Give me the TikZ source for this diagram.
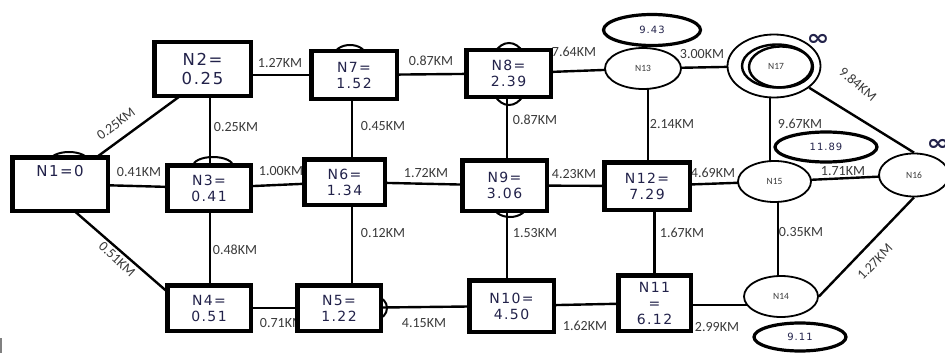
\documentclass[tikz,border=0pt]{standalone}
\usepackage{fontspec}
\usetikzlibrary{shapes.geometric,calc}
\newfontfamily\boxfont[LetterSpace=10]{DejaVu Sans}
\newfontfamily\lblfont{Carlito}
\newfontfamily\symfont{DejaVu Sans}
\definecolor{txt}{HTML}{22224A}
\definecolor{lbl}{HTML}{3A3A3A}
\pgfdeclarelayer{back}
\pgfsetlayers{back,main}
\begin{document}
\begin{tikzpicture}[x=1pt,y=-1pt,
  box/.style={draw, line width=4.5pt, fill=white, inner sep=0pt, align=center, text=txt,
    font=\boxfont\fontsize{14}{16}\selectfont},
  ell/.style={draw, ellipse, line width=1.8pt, fill=white, inner sep=0pt, text=lbl,
    font=\lblfont\fontsize{9.5}{10}\selectfont},
  valell/.style={draw, ellipse, line width=3.2pt, fill=white, inner sep=0pt, text=txt,
    font=\boxfont\fontsize{10}{12}\selectfont},
  conn/.style={line width=2.4pt},
  arcbk/.style={line width=2pt},
  lbl/.style={inner sep=0pt, text=lbl, font=\lblfont\fontsize{14}{14}\selectfont},
  infsym/.style={inner sep=0pt, text=txt, font=\symfont\bfseries\fontsize{22}{22}\selectfont}
]
\useasboundingbox (0,0) rectangle (945,353);

% boxes
\node[box, minimum width=95.5pt, minimum height=53.5pt, font=\boxfont\fontsize{15}{20}\selectfont] (n1) at (60,184) {N1=0\\\strut};
\node[box, minimum width=96.5pt, minimum height=53.5pt, font=\boxfont\fontsize{16.5}{19}\selectfont] (n2) at (202.5,69) {N2=\\0.25};
\node[box, minimum width=83.5pt, minimum height=45.5pt] (n3) at (209,188) {N3=\\0.41};
\node[box, minimum width=83.5pt, minimum height=45.5pt] (n4) at (209,308) {N4=\\0.51};
\node[box, minimum width=83.5pt, minimum height=45.5pt] (n5) at (339,308) {N5=\\1.22};
\node[box, minimum width=80.5pt, minimum height=45.5pt] (n6) at (344.5,182) {N6=\\1.34};
\node[box, minimum width=85.5pt, minimum height=47.5pt] (n7) at (354,75) {N7=\\1.52};
\node[box, minimum width=84.5pt, minimum height=46.5pt] (n8) at (508.5,73.5) {N8=\\2.39};
\node[box, minimum width=84.5pt, minimum height=50.5pt] (n9) at (504.5,185.5) {N9=\\3.06};
\node[box, minimum width=84.5pt, minimum height=51.5pt] (n10) at (511.5,306) {N10=\\4.50};
\node[box, minimum width=72.5pt, minimum height=55.5pt] (n11) at (654.5,303) {N11\\=\\6.12};
\node[box, minimum width=85.5pt, minimum height=47.5pt] (n12) at (647,186) {N12=\\7.29};

% ellipse nodes
\node[ell, minimum width=76pt, minimum height=41pt] (n13) at (643,68.5) {N13};
\node[ell, minimum width=93pt, minimum height=63pt] (n17) at (774,66) {};
\draw[line width=2.4pt] (777,66) ellipse [x radius=35pt, y radius=21.5pt];
\draw[line width=2.4pt] (781,67) ellipse [x radius=32pt, y radius=20.5pt];
\node[inner sep=0pt, text=lbl, font=\lblfont\fontsize{9.5}{10}\selectfont] (n17t) at (776,66) {N17};
\node[ell, minimum width=73pt, minimum height=41pt] (n15) at (774.5,181.5) {N15};
\node[ell, minimum width=70pt, minimum height=43pt] (n16) at (914,175) {N16};
\node[ell, minimum width=74pt, minimum height=41pt] (n14) at (781,296.5) {N14};

% value ellipses
\node[valell, minimum width=97pt, minimum height=31pt] (v13) at (652,30) {9.43};
\node[valell, minimum width=102pt, minimum height=30pt] (v15) at (826,147) {11.89};
\node[valell, minimum width=92pt, minimum height=28pt] (v14) at (800,337) {9.11};

% infinity marks
\node[infsym] (i17) at (818,40) {\scalebox{1.25}[1]{∞}};
\node[infsym] (i16) at (938,145) {\scalebox{1.25}[1]{∞}};

\begin{pgfonlayer}{back}
% partly hidden arcs behind boxes
\draw[arcbk] (69,162) ellipse [x radius=20pt, y radius=10pt];
\draw[arcbk] (213,166) ellipse [x radius=20pt, y radius=9pt];
\draw[arcbk] (350,56) ellipse [x radius=16pt, y radius=11pt];
\draw[arcbk] (509,74) ellipse [x radius=20pt, y radius=31pt];
\draw[arcbk] (510,205) ellipse [x radius=17pt, y radius=12pt];
\draw[arcbk] (376,308) ellipse [x radius=11pt, y radius=11pt];

% connectors
\draw[conn] (n1.center) -- ([xshift=14.5pt]n2.center);
\draw[conn] (n1) -- (n3);
\draw[conn] ([xshift=-16.7pt]n1.center) -- ([xshift=-23pt]n4.center);
\draw[conn] ([xshift=1pt]n3.center |- n2.center) -- ([xshift=1pt]n3.center);
\draw[conn] (n2.center |- n7.center) -- (n7.center);
\draw[conn] (n3.center) -- (n6.center);
\draw[conn] ([xshift=1pt]n3.center) -- ([xshift=1pt]n4.center);
\draw[conn] (n4.center) -- (n5.center);
\draw[conn] (n7.center) -- (n8.center);
\draw[conn] ([xshift=-2pt]n7.center) -- ([xshift=-2pt]n7.center |- n6.center);
\draw[conn] (n6.center) -- (n9.center);
\draw[conn] ([xshift=-2pt]n7.center |- n6.center) -- ([xshift=-2pt]n7.center |- n5.center);
\draw[conn] ([xshift=-1.5pt]n8.center) -- ([xshift=-1.5pt]n8.center |- n9.center);
\draw[conn] (n8.center) -- (n13.center);
\draw[conn] (n9.center) -- (n12.center);
\draw[conn] ([xshift=-1.5pt]n8.center |- n9.center) -- ([xshift=-1.5pt]n8.center |- n10.center);
\draw[conn] (n5.center) -- (n10.center);
\draw[conn] (n10.center) -- (n11.center);
\draw[conn] ([yshift=-2pt]n11.center) -- ([yshift=-2pt]n11.center -| n14.center);
\draw[conn] (n12.center) -- (n15.center);
\draw[conn] (n11.center |- n12.center) -- (n11.center);
\draw[conn] ([xshift=1pt]n12.center) -- ([xshift=1pt]n12.center |- n13.center);
\draw[conn] (n13.center) -- (n17.center);
\draw[conn] ([xshift=-4pt]n17.center) -- ([xshift=-4pt]n17.center |- n15.center);
\draw[conn] (n17) -- (n16.north);
\draw[conn] (n15.center) -- (n16.center);
\draw[conn] ([xshift=3.5pt]n15.center) -- ([xshift=3.5pt]n15.center |- n14.center);
\draw[conn] (n16.south) -- (n14.east);

% connector labels
\node[lbl, rotate=37] (l12) at (116,124) {0.25KM};
\node[lbl] (l13) at (139,172) {0.41KM};
\node[lbl, rotate=-43] (l14) at (117,259) {0.51KM};
\node[lbl] (l23) at (236,127) {0.25KM};
\node[lbl] (l27) at (280,63) {1.27KM};
\node[lbl] (l36) at (281,171) {1.00KM};
\node[lbl] (l34) at (235,250) {0.48KM};
\node[lbl] (l45) at (282,323) {0.71KM};
\node[lbl] (l78) at (431,61) {0.87KM};
\node[lbl] (l76) at (383,126) {0.45KM};
\node[lbl] (l69) at (426,173) {1.72KM};
\node[lbl] (l89) at (535,120) {0.87KM};
\node[lbl] (l813) at (574,52) {7.64KM};
\node[lbl] (l912) at (574,174) {4.23KM};
\node[lbl] (l65) at (383,233) {0.12KM};
\node[lbl] (l910) at (535,233) {1.53KM};
\node[lbl] (l510) at (424,323) {4.15KM};
\node[lbl] (l1011) at (585,326) {1.62KM};
\node[lbl] (l1213) at (672,124) {2.14KM};
\node[lbl] (l1317) at (702,54) {3.00KM};
\node[lbl] (l1215) at (713,173) {4.69KM};
\node[lbl] (l1715) at (800,124) {9.67KM};
\node[lbl, rotate=-40] (l1716) at (858,84) {9.84KM};
\node[lbl] (l1516) at (843,171) {1.71KM};
\node[lbl] (l1211) at (682,233) {1.67KM};
\node[lbl] (l1514) at (801,232) {0.35KM};
\node[lbl, rotate=46] (l1614) at (875,262) {1.27KM};
\node[lbl] (l1114) at (717,327) {2.99KM};

% small mark at lower left edge
\draw[gray, line width=1.2pt] (1,338) -- (1,353);
\end{pgfonlayer}
\end{tikzpicture}
\end{document}
